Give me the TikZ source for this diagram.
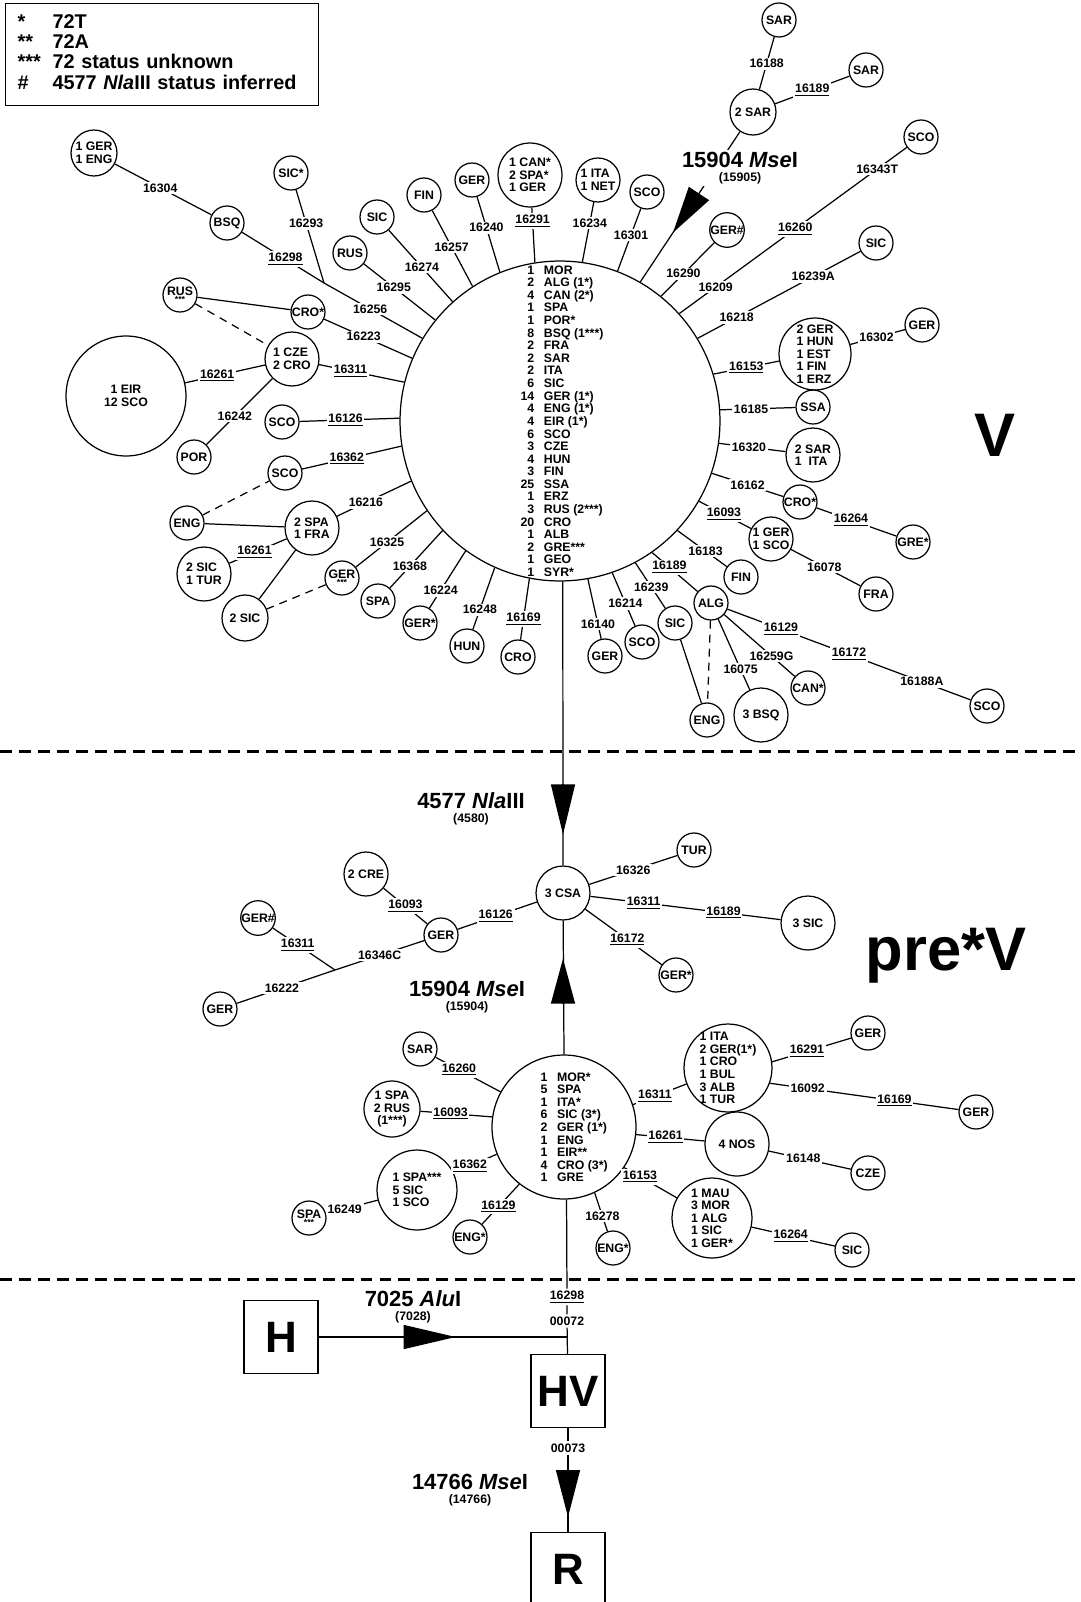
\documentclass[tikz,border=0pt]{standalone}
\usepackage{fontspec}
\setmainfont{Liberation Sans}
\usetikzlibrary{arrows.meta,calc}
\newcommand\smallf{\fontsize{7}{7.15}\selectfont\bfseries}
\newcommand\tinystars{{\fontsize{5}{5}\selectfont ***}}

\tikzset{
  hap/.style={draw,circle,inner sep=0pt,minimum size=#1*0.04cm,font=\smallf,align=left},
  hap/.default=17,
  lab/.style={font=\smallf,fill=white,inner sep=1pt},
  site/.style={font=\fontsize{12.5}{8}\selectfont\bfseries,align=center,inner sep=1pt,fill=white},
  box/.style={draw,rectangle,inner sep=0pt,minimum width=1.48cm,minimum height=1.46cm,font=\fontsize{25}{25}\selectfont\bfseries},
  dlink/.style={dash pattern=on 4.5pt off 3.5pt},
  sep/.style={line width=1.7pt,dash pattern=on 6.8pt off 4pt},
  bigtip/.style={-{Triangle[length=#1,width=0.48cm]}},
  bigtip/.default=1cm,
  clade/.style={font=\fontsize{35}{35}\selectfont\bfseries,inner sep=0pt}
}

\begin{document}
\begin{tikzpicture}[x=0.02cm,y=-0.02cm,line width=0.7pt]
\useasboundingbox (0,0) rectangle (1081,1602);

% legend
\node[draw,anchor=north west,inner xsep=0.24cm,inner ysep=0pt,text width=5.78cm,minimum height=2.04cm,align=left,font=\fontsize{11.3}{11.4}\selectfont\bfseries] (legend) at (5,3) {\begin{tabular}{@{}p{0.7cm}@{}l@{}}
{*}&72T\\ {**}&72A\\ {***}&72 status unknown\\ \#&4577 \textit{Nla}III status inferred
\end{tabular}};

% section lines
\draw[sep] (0,751) -- (1081,751);
\draw[sep] (0,1279) -- (1081,1279);

%%% V
\node[draw,circle,inner sep=0pt,minimum size=6.4cm] (main) at (560,421) {};
\node[font=\smallf,inner sep=0pt,anchor=base west] (mainlist) at (520,274) {\begin{tabular}[t]{@{}r@{\hspace{5.5pt}}l@{}}
1&MOR\\ 2&ALG (1*)\\ 4&CAN (2*)\\ 1&SPA\\ 1&POR*\\ 8&BSQ (1***)\\ 2&FRA\\ 2&SAR\\ 2&ITA\\ 6&SIC\\
14&GER (1*)\\ 4&ENG (1*)\\ 4&EIR (1*)\\ 6&SCO\\ 3&CZE\\ 4&HUN\\ 3&FIN\\ 25&SSA\\ 1&ERZ\\ 3&RUS (2***)\\
20&CRO\\ 1&ALB\\ 2&GRE***\\ 1&GEO\\ 1&SYR*
\end{tabular}};

\node[hap=23] (ge1) at (94,153) {1 GER\\1 ENG};
\node[hap] (bsq1) at (227,223) {BSQ};
\node[hap] (sic1) at (291,173) {SIC*};
\node[hap] (sic2) at (377,217) {SIC};
\node[hap] (rus1) at (350,253) {RUS};
\node[hap] (fin1) at (424,195) {FIN};
\node[hap] (ger1) at (472,180) {GER};
\node[hap=32] (can1) at (530,175) {1 CAN*\\2 SPA*\\1 GER};
\node[hap=22] (ita1) at (598,180) {1 ITA\\1 NET};
\node[hap] (sco1) at (647,192) {SCO};
\node[hap] (sar1) at (779,20) {SAR};
\node[hap] (sar2) at (866,70) {SAR};
\node[hap=23] (sar3) at (753,112) {2 SAR};
\node[hap] (ger2) at (727,230) {GER\#};
\node[hap] (sco2) at (921,137) {SCO};
\node[hap] (sic3) at (876,243) {SIC};
\node[hap=36] (ger3) at (815,354) {2 GER\\1 HUN\\1 EST\\1 FIN\\1 ERZ};
\node[hap] (ger4) at (922,325) {GER};
\node[hap] (ssa1) at (813,407) {SSA};
\node[hap=27] (sar4) at (813,455) {2 SAR\\1\ \ ITA};
\node[hap] (cro1) at (800,502) {CRO*};
\node[hap] (gre1) at (913,542) {GRE*};
\node[hap=22] (ger5) at (771,539) {1 GER\\1 SCO};
\node[hap] (fra1) at (876,594) {FRA};
\node[hap] (fin2) at (741,577) {FIN};
\node[hap] (alg1) at (711,603) {ALG};
\node[hap] (can2) at (808,688) {CAN*};
\node[hap] (sco3) at (987,706) {SCO};
\node[hap=27] (bsq2) at (761,715) {3 BSQ};
\node[hap] (eng1) at (707,720) {ENG};
\node[hap] (sic4) at (675,623) {SIC};
\node[hap] (sco4) at (642,642) {SCO};
\node[hap] (ger6) at (605,656) {GER};
\node[hap] (cro2) at (518,657) {CRO};
\node[hap] (hun1) at (467,646) {HUN};
\node[hap] (ger7) at (420,623) {GER*};
\node[hap] (spa1) at (378,601) {SPA};
\node[hap,align=center] (ger8) at (342,578) {GER\\[-3pt]\tinystars};
\node[hap=23] (sic5) at (245,618) {2 SIC};
\node[hap=27] (sic6) at (204,574) {2 SIC\\1 TUR};
\node[hap=27] (spa2) at (312,528) {2 SPA\\1 FRA};
\node[hap] (eng2) at (187,523) {ENG};
\node[hap] (sco5) at (285,473) {SCO};
\node[hap] (sco6) at (282,422) {SCO};
\node[hap] (por1) at (194,457) {POR};
\node[hap=60,align=center] (eir1) at (126,396) {1 EIR\\12 SCO};
\node[hap=27] (cze1) at (292,359) {1 CZE\\2 CRO};
\node[hap] (cro3) at (308,312) {CRO*};
\node[hap,align=center] (rus2) at (180,295) {RUS\\[-3pt]\tinystars};
\coordinate (j1) at (324,283);

\draw (ge1) -- node[lab,pos=.47] (t1) {16304} (bsq1);
\draw (bsq1) -- node[lab,pos=.53] (t2) {\underline{16298}} (j1);
\draw (j1) -- node[lab,pos=.47] (t3) {16256} (main.149);
\draw (sic1) -- node[lab,pos=.36] (t4) {16293} (j1);
\draw (rus1) -- node[lab,pos=.42] (t5) {16295} (main.141);
\draw (sic2) -- node[lab,pos=.52] (t6) {16274} (main.132);
\draw (fin1) -- node[lab,pos=.48] (t7) {16257} (main.123);
\draw (ger1) -- node[lab,pos=.41] (t8) {16240} (main.112);
\draw (can1) -- node[lab,pos=.25] (t9) {\underline{16291}} (main.99);
\draw (ita1) -- node[lab,pos=.35] (t10) {16234} (main.82);
\draw (sco1) -- node[lab,pos=.42] (t11) {16301} (main.69);
\draw (main.60) -- (sar3);
\node[site] (s1) at (740,168) {15904 \textit{Mse}I\\{\smallf (15905)}};
\draw[bigtip=0.94cm] ($(main.60)!.52!(sar3)$) -- ($(main.60)!.29!(sar3)$);
\draw (sar1) -- node[lab,pos=.51] (t12) {16188} (sar3);
\draw (sar3) -- node[lab,pos=.5] (t13) {\underline{16189}} (sar2);
\draw (main.51) -- node[lab,pos=.42] (t14) {16290} (ger2);
\draw (main.42) -- node[lab,pos=.16] (t15) {16209} node[lab,pos=.51] (t16) {\underline{16260}} node[lab,pos=.87] (t17) {16343T} (sco2);
\draw (main.31) -- node[lab,pos=.24] (t18) {16218} node[lab,pos=.71] (t19) {16239A} (sic3);
\draw (main.17) -- node[lab,pos=.5] (t20) {\underline{16153}} (ger3);
\draw (ger3) -- node[lab,pos=.48] (t21) {16302} (ger4);
\draw (main.4) -- node[lab,pos=.41] (t22) {16185} (ssa1);
\draw (main.-8) -- node[lab,pos=.45] (t23) {16320} (sar4);
\draw (main.-19) -- node[lab,pos=.5] (t24) {16162} (cro1);
\draw (cro1) -- node[lab,pos=.43] (t25) {\underline{16264}} (gre1);
\draw (main.-30) -- node[lab,pos=.48] (t26) {\underline{16093}} (ger5);
\draw (ger5) -- node[lab,pos=.48] (t27) {16078} (fra1);
\draw (main.-43) -- node[lab,pos=.57] (t28) {16183} (fin2);
\draw (main.-55) -- node[lab,pos=.38] (t29) {\underline{16189}} (alg1);
\draw[dlink] (alg1) -- (eng1);
\draw (alg1) -- node[lab,pos=.71] (t30) {16075} (bsq2);
\draw (alg1) -- node[lab,pos=.67] (t31) {16259G} (can2);
\draw (alg1) -- node[lab,pos=.22] (t32) {\underline{16129}} node[lab,pos=.5] (t33) {\underline{16172}} node[lab,pos=.8] (t34) {16188A} (sco3);
\draw (main.-62) -- node[lab,pos=.53] (t35) {16239} (sic4);
\draw (sic4) -- (eng1);
\draw (main.-71) -- node[lab,pos=.58] (t36) {16214} (sco4);
\draw (main.-80) -- node[lab,pos=.75] (t37) {16140} (ger6);
\draw (main.-101) -- node[lab,pos=.66] (t38) {\underline{16169}} (cro2);
\draw (main.-114) -- node[lab,pos=.68] (t39) {16248} (hun1);
\draw (main.-126) -- node[lab,pos=.69] (t40) {16224} (ger7);
\draw (main.-137) -- node[lab,pos=.62] (t41) {16368} (spa1);
\draw (main.-146) -- node[lab,pos=.56] (t42) {16325} (ger8);
\draw[dlink] (ger8) -- (sic5);
\draw (main.-158) -- node[lab,pos=.61] (t43) {16216} (spa2);
\draw (spa2) -- (eng2);
\draw (spa2) -- node[lab,pos=.56] (t44) {\underline{16261}} (sic6);
\draw (spa2) -- (sic5);
\draw[dlink] (eng2) -- (sco5);
\draw (main.-171) -- node[lab,pos=.55] (t45) {\underline{16362}} (sco5);
\draw (main.179) -- node[lab,pos=.54] (t46) {\underline{16126}} (sco6);
\draw (main.166) -- node[lab,pos=.63] (t47) {\underline{16311}} (cze1);
\draw (cze1) -- node[lab,pos=.6] (t48) {\underline{16261}} (eir1);
\draw (cze1) -- node[lab,pos=.57] (t49) {16242} (por1);
\draw[dlink] (rus2) -- (cze1);
\draw (rus2) -- (cro3);
\draw (main.157) -- node[lab,pos=.55] (t50) {16223} (cro3);

\node[clade] (cv) at (995,435) {V};

%%% pre*V, upper part
\node[hap=27] (csa1) at (563,893) {3 CSA};
\node[hap] (tur1) at (694,850) {TUR};
\node[hap=27] (sic7) at (808,923) {3 SIC};
\node[hap] (ger9) at (676,975) {GER*};
\node[hap] (ger10) at (441,935) {GER};
\node[hap=22] (cre1) at (366,874) {2 CRE};
\node[hap] (ger11) at (258,918) {GER\#};
\node[hap] (ger12) at (220,1009) {GER};
\coordinate (j2) at (335,970);

\draw (main.-89) -- (csa1);
\draw[bigtip] ($(csa1.north)+(0,-81)$) -- ($(csa1.north)+(0,-31)$);
\node[site] (s2) at (471,809) {4577 \textit{Nla}III\\{\smallf (4580)}};
\draw (csa1) -- node[lab,pos=.5] (m1) {16326} (tur1);
\draw (csa1) -- node[lab,pos=.28] (m2) {\underline{16311}} node[lab,pos=.7] (m3) {\underline{16189}} (sic7);
\draw (csa1) -- node[lab,pos=.55] (m4) {\underline{16172}} (ger9);
\draw (csa1) -- node[lab,pos=.52] (m5) {\underline{16126}} (ger10);
\draw (ger10) -- node[lab,pos=.5] (m6) {\underline{16093}} (cre1);
\draw (ger10) -- node[lab,pos=.5] (m7) {16346C} (j2);
\draw (j2) -- node[lab,pos=.6] (m8) {\underline{16311}} (ger11);
\draw (j2) -- node[lab,pos=.54] (m9) {16222} (ger12);

\node[clade] (cpv) at (946,956) {pre*V};

%%% pre*V, lower part
\node[draw,circle,inner sep=0pt,minimum size=2.88cm] (pre) at (564,1127) {};
\node[font=\smallf,inner sep=0pt,anchor=base west] (prelist) at (540,1081) {\begin{tabular}[t]{@{}r@{\hspace{5.5pt}}l@{}}
1&MOR*\\ 5&SPA\\ 1&ITA*\\ 6&SIC (3*)\\ 2&GER (1*)\\ 1&ENG\\ 1&EIR**\\ 4&CRO (3*)\\ 1&GRE
\end{tabular}};
\draw (pre.north) -- (csa1);
\draw[bigtip=0.9cm] ($(csa1.south)+(0,83)$) -- ($(csa1.south)+(0,38)$);
\node[site] (s3) at (467,997) {15904 \textit{Mse}I\\{\smallf (15904)}};

\node[hap] (sar5) at (420,1049) {SAR};
\node[hap=28,align=center] (spa3) at (392,1109) {1 SPA\\2 RUS\\(1***)};
\node[hap=40] (spa4) at (417,1190) {1 SPA***\\5 SIC\\1 SCO};
\node[hap,align=center] (spa5) at (309,1218) {SPA\\[-3pt]\tinystars};
\node[hap] (eng3) at (470,1237) {ENG*};
\node[hap] (eng4) at (613,1248) {ENG*};
\node[hap=44,inner sep=-3pt] (ita2) at (728,1068) {1 ITA\\2 GER(1*)\\1 CRO\\1 BUL\\3 ALB\\1 TUR};
\node[hap] (ger13) at (868,1033) {GER};
\node[hap] (ger14) at (976,1112) {GER};
\node[hap=32] (nos1) at (737,1144) {4 NOS};
\node[hap] (cze2) at (868,1173) {CZE};
\node[hap=40] (mau1) at (712,1218) {1 MAU\\3 MOR\\1 ALG\\1 SIC\\1 GER*};
\node[hap] (sic8) at (852,1250) {SIC};

\draw (pre.151) -- node[lab,pos=.64] (b1) {\underline{16260}} (sar5);
\draw (pre.172) -- node[lab,pos=.58] (b2) {\underline{16093}} (spa3);
\draw (pre.-158) -- node[lab,pos=.63] (b3) {\underline{16362}} (spa4);
\draw (spa4) -- node[lab,pos=.64] (b4) {16249} (spa5);
\draw (pre.-128) -- node[lab,pos=.56] (b5) {\underline{16129}} (eng3);
\draw (pre.-65) -- node[lab,pos=.6] (b6) {16278} (eng4);
\draw (pre.18) -- node[lab,pos=.41] (b7) {\underline{16311}} (ita2);
\draw (ita2.8) -- node[lab,pos=.44] (b8) {\underline{16291}} (ger13);
\draw (ita2.-20) -- node[lab,pos=.2] (b9) {16092} node[lab,pos=.66] (b10) {\underline{16169}} (ger14);
\draw (pre.-6) -- node[lab,pos=.43] (b11) {\underline{16261}} (nos1);
\draw (nos1) -- node[lab,pos=.42] (b12) {16148} (cze2);
\draw (pre.-34) -- node[lab,pos=.3] (b13) {\underline{16153}} (mau1);
\draw (mau1) -- node[lab,pos=.47] (b14) {\underline{16264}} (sic8);

%%% H, HV, R
\node[box] (h) at (281,1337) {H};
\node[box] (hv) at (568,1391) {HV};
\node[box,anchor=north] (r) at (568,1532) {R};
\node[lab] (b15) at (567,1297) {\underline{16298}};
\node[lab] (b16) at (567,1321) {00072};
\node[lab] (b17) at (568,1448) {00073};
\draw (pre.-88) -- (b15) -- (b16) -- (hv);
\draw (h.east) -- (h.east -| hv.north);
\draw[bigtip=1.04cm] ($(h.east)+(85,0)$) -- ($(h.east)+(137,0)$);
\node[site,fill=none] (s4) at (413,1307) {7025 \textit{Alu}I\\{\smallf (7028)}};
\draw (hv) -- (b17) -- (r);
\draw[bigtip=0.94cm] ($(r.north)+(0,-62)$) -- ($(r.north)+(0,-15)$);
\node[site,fill=none] (s5) at (470,1490) {14766 \textit{Mse}I\\{\smallf (14766)}};
\end{tikzpicture}
\end{document}
